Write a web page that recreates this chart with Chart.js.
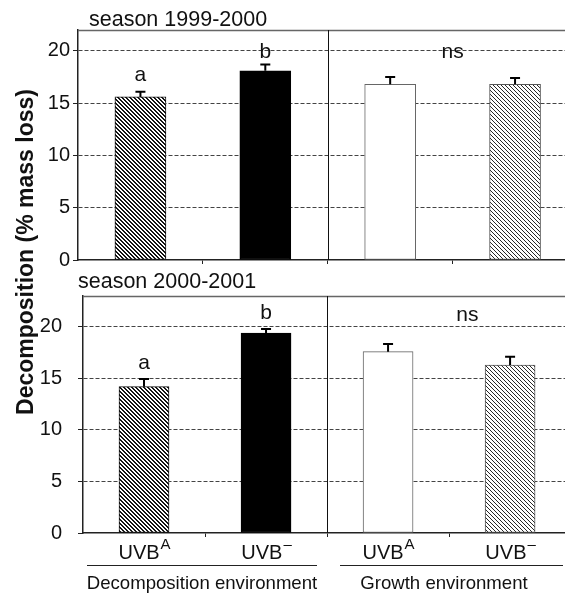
<!DOCTYPE html>
<html>
<head>
<meta charset="utf-8">
<script src="https://cdn.jsdelivr.net/npm/chart.js@4"></script>
<style>
  html, body { margin: 0; padding: 0; background: #fff; overflow: hidden; }
  body { width: 565px; height: 595px; position: relative; font-family: "Liberation Sans", Arial, sans-serif; color: #111; }
  .box { position: absolute; left: 0; width: 565px; }
  .txt { position: absolute; white-space: nowrap; }
  .rule { position: absolute; height: 0; border-top: 1.5px solid #222; }
</style>
</head>
<body>
<div class="box" style="top:0;height:275px"><canvas id="chart-top"></canvas></div>
<div class="box" style="top:268px;height:327px"><canvas id="chart-bottom"></canvas></div>

<div class="txt" style="left:89px;top:7px;font-size:21.5px;line-height:24px">season 1999-2000</div>
<div class="txt" style="left:78px;top:269px;font-size:21.5px;line-height:24px">season 2000-2001</div>
<div class="txt" style="left:-175px;top:237px;width:400px;height:30px;line-height:30px;text-align:center;font-size:23px;font-weight:bold;transform:rotate(-90deg)">Decomposition (% mass loss)</div>

<div class="rule" style="left:87px;top:565px;width:230px"></div>
<div class="rule" style="left:340px;top:565px;width:223px"></div>
<div class="txt" style="left:62px;top:572px;width:280px;text-align:center;font-size:18.6px;line-height:22px">Decomposition environment</div>
<div class="txt" style="left:304px;top:572px;width:280px;text-align:center;font-size:18.6px;line-height:22px">Growth environment</div>

<script>
// ── Data ──────────────────────────────────────────────────────────────
const categories = ['UVB', 'UVB', 'UVB', 'UVB'];
const categorySup = ['A', '\u2013', 'A', '\u2013'];
const yTicks = [0, 5, 10, 15, 20];

const topValues = [15.6, 18.1, 16.8, 16.8];
const topErrors = [0.5, 0.6, 0.7, 0.6];
const topLetters = ['a', 'b', 'ns'];
const topLetterX = [0, 1, 2.5];
const topLetterY = [17.7, 19.85, 19.9];

const bottomValues = [14.2, 19.4, 17.6, 16.3];
const bottomErrors = [0.75, 0.4, 0.75, 0.8];
const bottomLetters = ['a', 'b', 'ns'];
const bottomLetterX = [0, 1, 2.65];
const bottomLetterY = [16.5, 21.3, 21.1];

const FONT = '"Liberation Sans", Arial, sans-serif';

// ── Hatch patterns (pixel-exact "\" stripes) ──────────────────────────
function hatch(period, dark, rgb) {
  const c = document.createElement('canvas');
  c.width = period; c.height = period;
  const g = c.getContext('2d');
  const img = g.createImageData(period, period);
  for (let j = 0; j < period; j++) {
    for (let i = 0; i < period; i++) {
      const on = (((i - j) % period) + period) % period < dark;
      const k = (j * period + i) * 4;
      img.data[k] = on ? rgb : 255;
      img.data[k + 1] = on ? rgb : 255;
      img.data[k + 2] = on ? rgb : 255;
      img.data[k + 3] = 255;
    }
  }
  g.putImageData(img, 0, 0);
  return g.createPattern(c, 'repeat');
}

const fills = [
  hatch(4, 2, 20),
  '#000000',
  '#ffffff',
  hatch(4, 1, 40),
];
const borders = ['#111', '#000', '#666', '#555'];

// ── Plugin: divider, top border, error bars, letters, labels ─────────
const panelPlugin = {
  id: 'panel',
  afterDatasetsDraw(chart) {
    const { ctx, chartArea: a, scales: { x, y } } = chart;
    const o = chart.options.plugins.panel;
    ctx.save();

    // top border
    ctx.strokeStyle = '#666';
    ctx.lineWidth = 1.5;
    ctx.beginPath();
    ctx.moveTo(a.left, a.top + 0.5);
    ctx.lineTo(a.right, a.top + 0.5);
    ctx.stroke();

    // divider between environments
    const xd = Math.round(x.getPixelForValue(1.5)) + 0.5;
    ctx.strokeStyle = '#111';
    ctx.lineWidth = 1;
    ctx.beginPath();
    ctx.moveTo(xd, a.top);
    ctx.lineTo(xd, a.bottom);
    ctx.stroke();

    // error bars (upper only)
    ctx.strokeStyle = '#000';
    ctx.lineWidth = 2;
    o.values.forEach((v, i) => {
      const px = x.getPixelForValue(i);
      const y0 = y.getPixelForValue(v);
      const y1 = y.getPixelForValue(v + o.errors[i]);
      ctx.beginPath();
      ctx.moveTo(px, y0);
      ctx.lineTo(px, y1);
      ctx.moveTo(px - 5, y1);
      ctx.lineTo(px + 5, y1);
      ctx.stroke();
    });

    // significance letters
    ctx.fillStyle = '#111';
    ctx.font = '21px ' + FONT;
    ctx.textAlign = 'center';
    ctx.textBaseline = 'middle';
    o.letters.forEach((t, i) => {
      ctx.fillText(t, x.getPixelForValue(o.letterX[i]), y.getPixelForValue(o.letterY[i]));
    });

    // category labels
    if (o.showLabels) {
      const ly = a.bottom + 20;
      categories.forEach((c, i) => {
        ctx.font = '20px ' + FONT;
        const w1 = ctx.measureText(c).width;
        ctx.font = '15px ' + FONT;
        const w2 = ctx.measureText(categorySup[i]).width;
        const left = x.getPixelForValue(i) - (w1 + w2) / 2;
        ctx.textAlign = 'left';
        ctx.font = '20px ' + FONT;
        ctx.fillText(c, left, ly);
        ctx.font = '15px ' + FONT;
        ctx.fillText(categorySup[i], left + w1 + 1, ly - 8);
      });
    }
    ctx.restore();
  }
};

// ── Chart builder ─────────────────────────────────────────────────────
function makeChart(id, opts) {
  const data = opts.values.map((v, i) => ({ x: i, y: v }));
  return new Chart(document.getElementById(id), {
    type: 'bar',
    data: {
      datasets: [{
        data,
        backgroundColor: fills,
        borderColor: borders,
        borderWidth: 1,
        borderSkipped: false,
        barThickness: opts.barWidth,
      }]
    },
    options: {
      responsive: true,
      maintainAspectRatio: false,
      animation: false,
      layout: { padding: { top: opts.padTop, right: 0, left: 0, bottom: 0 } },
      plugins: {
        legend: { display: false },
        tooltip: { enabled: false },
        panel: opts,
      },
      scales: {
        x: {
          type: 'linear',
          offset: false,
          min: -0.5,
          max: opts.xMax,
          afterBuildTicks: s => { s.ticks = [0.5, 1.5, 2.5].map(v => ({ value: v })); },
          afterFit: s => { s.height = opts.xHeight; },
          ticks: { display: false },
          grid: { offset: false, drawOnChartArea: false, drawTicks: true, tickLength: 4, color: '#222' },
          border: { display: true, color: '#222', width: 1.5 },
        },
        y: {
          min: 0,
          max: opts.yMax,
          afterBuildTicks: s => { s.ticks = yTicks.map(v => ({ value: v })); },
          afterFit: s => { s.width = opts.yWidth; },
          ticks: {
            color: '#111',
            padding: opts.tickPad,
            font: { family: FONT, size: 20 },
          },
          grid: {
            color: c => c.tick && c.tick.value === 0 ? 'rgba(0,0,0,0)' : '#444',
            tickColor: '#222',
            tickLength: 5,
            lineWidth: 1,
          },
          border: { display: true, color: '#222', width: 1.5, dash: [4, 2] },
        }
      }
    },
    plugins: [panelPlugin]
  });
}

makeChart('chart-top', {
  values: topValues, errors: topErrors,
  letters: topLetters, letterX: topLetterX, letterY: topLetterY,
  showLabels: false,
  barWidth: 51, padTop: 30, xHeight: 10, yWidth: 78, tickPad: 3,
  xMax: 3.4, yMax: 22,
});

makeChart('chart-bottom', {
  values: bottomValues, errors: bottomErrors,
  letters: bottomLetters, letterX: bottomLetterX, letterY: bottomLetterY,
  showLabels: true,
  barWidth: 50, padTop: 28, xHeight: 62, yWidth: 83, tickPad: 16,
  xMax: 3.45, yMax: 23,
});
</script>
</body>
</html>
